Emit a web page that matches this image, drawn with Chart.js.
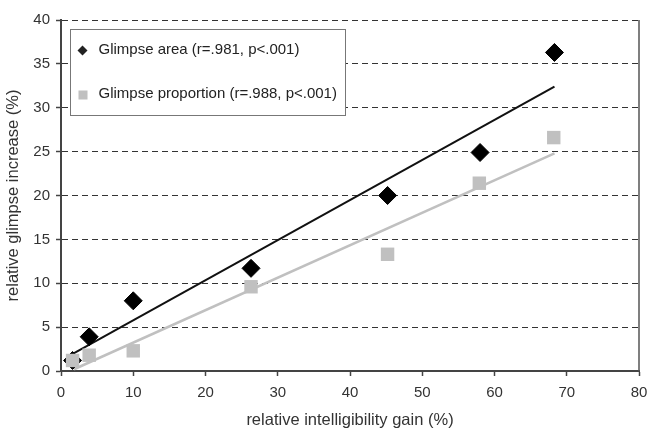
<!DOCTYPE html>
<html>
<head>
<meta charset="utf-8">
<script src="https://cdn.jsdelivr.net/npm/chart.js@4/dist/chart.umd.min.js"></script>
<style>
  body { margin: 0; background: #fff; }
</style>
</head>
<body>
<canvas id="glimpseChart" width="649" height="431"></canvas>
<script>
// values
const areaX = [1.6, 3.9, 10.0, 26.3, 45.2, 58.0, 68.3];
const areaY = [1.2, 3.9, 8.0, 11.7, 20.0, 24.9, 36.3];
const propX = [1.6, 3.9, 10.0, 26.3, 45.2, 57.9, 68.2];
const propY = [1.2, 1.8, 2.3, 9.6, 13.3, 21.4, 26.6];
// trend line end points (as drawn in the picture)
const areaTrendX = [1.5, 68.3];
const areaTrendY = [1.9, 32.4];
const propTrendX = [1.8, 68.3];
const propTrendY = [0.2, 24.8];

const areaLabel = "Glimpse area (r=.981, p<.001)";
const propLabel = "Glimpse proportion (r=.988, p<.001)";
const xTitle = "relative intelligibility gain (%)";
const yTitle = "relative glimpse increase (%)";

const FONT = "'Liberation Sans', Arial, sans-serif";

function toPoints(xs, ys) {
  return xs.map((x, i) => ({ x: x, y: ys[i] }));
}

// legend box + right frame line
const boxLegend = {
  id: "boxLegend",
  afterDraw(chart) {
    const ctx = chart.ctx;
    const area = chart.chartArea;
    ctx.save();
    // right border of plot
    ctx.strokeStyle = "#555";
    ctx.lineWidth = 1.5;
    ctx.beginPath();
    ctx.moveTo(area.right, area.top);
    ctx.lineTo(area.right, area.bottom);
    ctx.stroke();

    const bx = area.left + 9.5, by = area.top + 9.5, bw = 275, bh = 86;
    ctx.fillStyle = "#fff";
    ctx.fillRect(bx, by, bw, bh);
    ctx.strokeStyle = "#777";
    ctx.lineWidth = 1;
    ctx.strokeRect(bx, by, bw, bh);

    ctx.font = "15px " + FONT;
    ctx.fillStyle = "#222";
    ctx.textBaseline = "middle";
    const mx = bx + 12;
    const y1 = by + 20, y2 = by + 64;
    // diamond
    ctx.beginPath();
    ctx.moveTo(mx - 5, y1 + 1);
    ctx.lineTo(mx, y1 - 4);
    ctx.lineTo(mx + 5, y1 + 1);
    ctx.lineTo(mx, y1 + 6);
    ctx.closePath();
    ctx.fill();
    ctx.fillText(chart.data.datasets[1].label, bx + 28, y1);
    // square
    ctx.fillStyle = "#c0c0c0";
    ctx.fillRect(mx - 4, y2 - 3, 9, 9);
    ctx.fillStyle = "#222";
    ctx.fillText(chart.data.datasets[0].label, bx + 28, y2);
    ctx.restore();
  }
};

const ctx = document.getElementById("glimpseChart").getContext("2d");
new Chart(ctx, {
  type: "scatter",
  data: {
    datasets: [
      {
        label: propLabel,
        data: toPoints(propX, propY),
        pointStyle: "rect",
        pointRadius: 9.5,
        backgroundColor: "#c0c0c0",
        borderColor: "#c0c0c0",
        borderWidth: 0,
        order: 1
      },
      {
        label: areaLabel,
        data: toPoints(areaX, areaY),
        pointStyle: "rectRot",
        pointRadius: 9,
        backgroundColor: "#000",
        borderColor: "#000",
        borderWidth: 1,
        order: 2
      },
      {
        label: "area trend",
        data: toPoints(areaTrendX, areaTrendY),
        showLine: true,
        pointRadius: 0,
        borderColor: "#111",
        borderWidth: 2,
        order: 3
      },
      {
        label: "proportion trend",
        data: toPoints(propTrendX, propTrendY),
        showLine: true,
        pointRadius: 0,
        borderColor: "#c0c0c0",
        borderWidth: 2.5,
        order: 4
      }
    ]
  },
  options: {
    responsive: false,
    animation: false,
    layout: { padding: { top: 20, right: 10, left: 0, bottom: 0 } },
    plugins: {
      legend: { display: false },
      tooltip: { enabled: false }
    },
    scales: {
      x: {
        type: "linear",
        min: 0,
        max: 80,
        ticks: { stepSize: 10, color: "#333", font: { family: FONT, size: 15 }, padding: 8, maxRotation: 0 },
        grid: { drawOnChartArea: false, drawTicks: true, tickLength: 5, tickColor: "#444", tickWidth: 1.5 },
        border: { color: "#444", width: 2 },
        title: { display: true, text: xTitle, color: "#333", font: { family: FONT, size: 16.5 }, padding: { top: 4, bottom: 1 } },
        afterFit(axis) {
          axis.height = 60;
          axis.paddingLeft = 0;
          axis.paddingRight = 0;
        }
      },
      y: {
        type: "linear",
        min: 0,
        max: 40,
        ticks: { stepSize: 5, color: "#333", font: { family: FONT, size: 15 }, padding: 6 },
        grid: { color: "#333", lineWidth: 1, drawTicks: true, tickLength: 5, tickColor: "#444", tickWidth: 1.5, tickBorderDash: [] },
        border: { color: "#444", width: 2, dash: [6, 4] },
        title: { display: true, text: yTitle, color: "#333", font: { family: FONT, size: 16.5 }, padding: { top: 4, bottom: 4 } },
        afterFit(axis) { axis.width = 61; }
      }
    }
  },
  plugins: [boxLegend]
});
</script>
</body>
</html>
